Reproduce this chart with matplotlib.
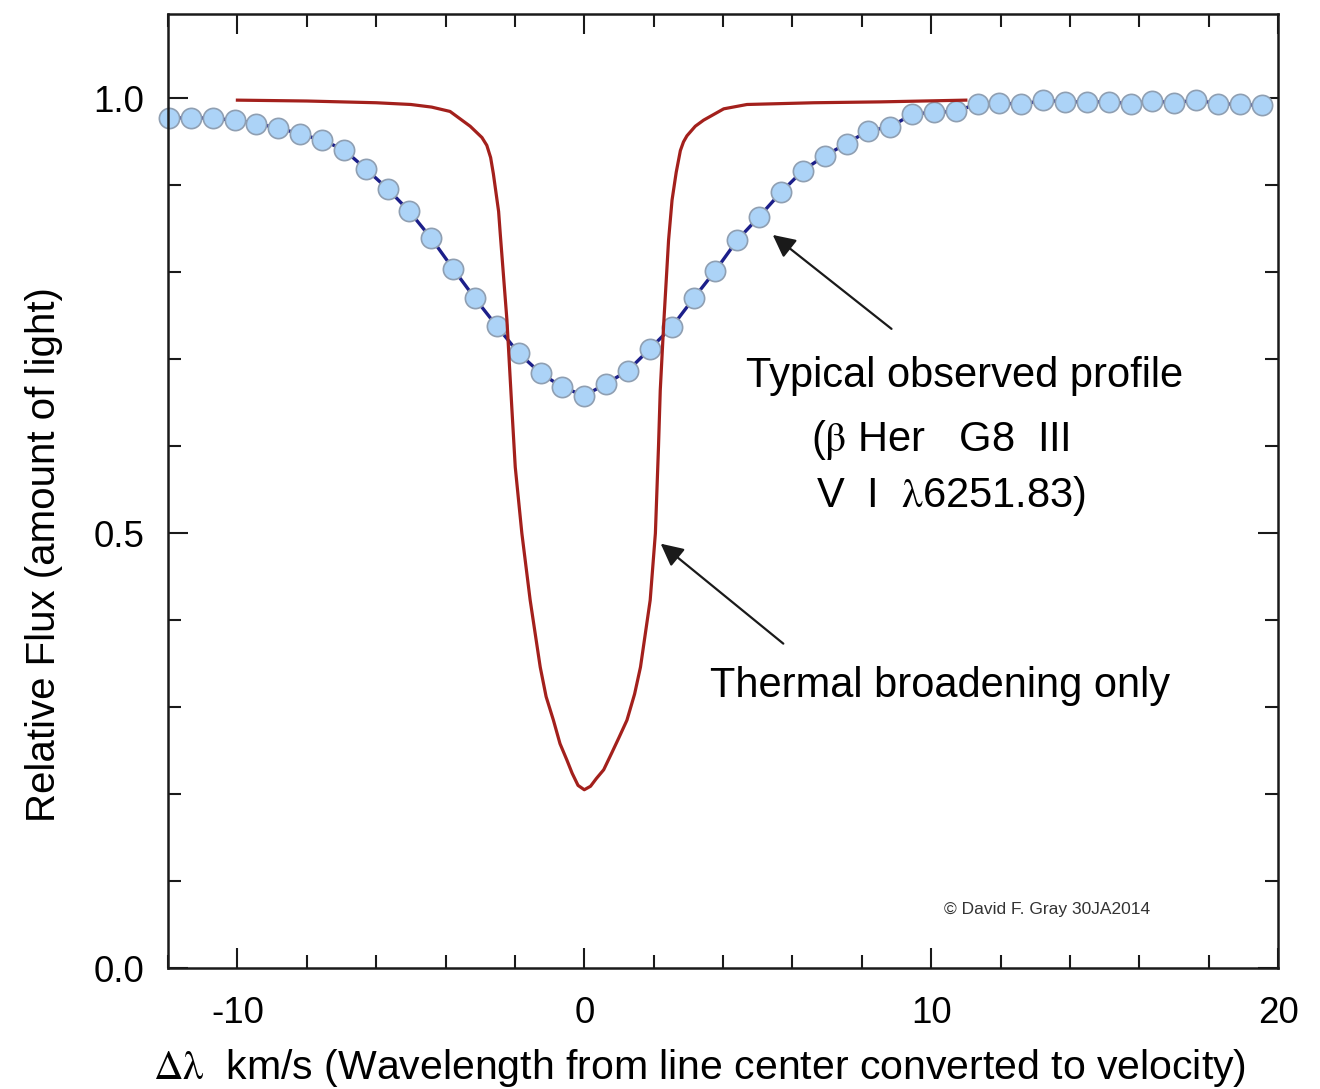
import matplotlib
matplotlib.use('Agg')
from matplotlib import pyplot as plt
from matplotlib.ticker import MultipleLocator, FixedLocator

plt.rcParams['font.family'] = ['Liberation Sans', 'DejaVu Sans']
plt.rcParams['mathtext.fontset'] = 'stix'
plt.rcParams['axes.unicode_minus'] = False

# observed profile (beta Her, V I 6251.83), dots every ~0.63 km/s
obs_v = [-11.97, -11.34, -10.71, -10.08, -9.45, -8.82, -8.19, -7.56, -6.93, -6.30,
         -5.67, -5.04, -4.41, -3.78, -3.15, -2.52, -1.89, -1.26, -0.63, 0.0,
         0.63, 1.26, 1.89, 2.52, 3.15, 3.78, 4.41, 5.04, 5.67, 6.30,
         6.93, 7.56, 8.19, 8.82, 9.45, 10.08, 10.71, 11.34, 11.97, 12.60,
         13.23, 13.86, 14.49, 15.12, 15.75, 16.38, 17.01, 17.64, 18.27, 18.90,
         19.53]
obs_flux = [0.977, 0.978, 0.977, 0.975, 0.971, 0.966, 0.959, 0.952, 0.941, 0.919,
            0.896, 0.870, 0.839, 0.804, 0.770, 0.738, 0.707, 0.684, 0.668, 0.658,
            0.672, 0.687, 0.712, 0.737, 0.770, 0.802, 0.837, 0.864, 0.892, 0.917,
            0.934, 0.948, 0.963, 0.967, 0.982, 0.984, 0.985, 0.994, 0.995, 0.993,
            0.998, 0.996, 0.996, 0.996, 0.994, 0.997, 0.995, 0.998, 0.994, 0.993,
            0.992]

# thermal broadening only
th_v = [-10.0, -8.0, -6.0, -5.0, -4.4, -3.87, -3.29, -2.95, -2.81, -2.70,
        -2.62, -2.47, -2.42, -2.23, -2.09, -1.99, -1.80, -1.56, -1.27, -1.10,
        -0.89, -0.70, -0.50, -0.35, -0.18, 0.0, 0.18, 0.35, 0.56, 0.80,
        1.00, 1.23, 1.45, 1.62, 1.90, 2.05, 2.14, 2.19, 2.29, 2.43,
        2.53, 2.65, 2.77, 2.86, 2.96, 3.20, 3.44, 4.02, 4.69, 6.62,
        8.54, 11.0]
th_flux = [0.998, 0.997, 0.995, 0.993, 0.990, 0.985, 0.968, 0.955, 0.946, 0.932,
           0.913, 0.870, 0.843, 0.745, 0.645, 0.576, 0.500, 0.423, 0.346, 0.312,
           0.285, 0.258, 0.239, 0.224, 0.210, 0.205, 0.209, 0.218, 0.228, 0.248,
           0.265, 0.285, 0.315, 0.346, 0.423, 0.500, 0.600, 0.664, 0.741, 0.837,
           0.883, 0.915, 0.940, 0.950, 0.957, 0.968, 0.975, 0.988, 0.993, 0.995,
           0.996, 0.998]

fig = plt.figure(figsize=(13.2, 10.89), dpi=100)
ax = fig.add_axes([0.1273, 0.1111, 0.8409, 0.876])

ax.plot(obs_v, obs_flux, '-', color='#1c1f8a', lw=2.4, zorder=2,
        marker='o', ms=14.6, mfc='#acd3f7', mec='#8f9fb2', mew=1.2, clip_on=False)
ax.plot(th_v, th_flux, '-', color='#a3201c', lw=2.3, zorder=3)

ax.set_xlim(-12, 20)
ax.set_ylim(0, 1.097)
ax.xaxis.set_major_locator(FixedLocator([-10, 0, 10, 20]))
ax.xaxis.set_minor_locator(MultipleLocator(2))
ax.yaxis.set_major_locator(FixedLocator([0.0, 0.5, 1.0]))
ax.yaxis.set_minor_locator(MultipleLocator(0.1))
ax.set_xticklabels(['-10', '0', '10', '20'])
ax.set_yticklabels(['0.0', '0.5', '1.0'])

for s in ax.spines.values():
    s.set_linewidth(1.8)
    s.set_color('#1a1a1a')
ax.tick_params(which='both', direction='in', top=True, right=True,
               width=1.5, color='#1a1a1a', labelsize=26.5)
ax.tick_params(which='major', length=14.5)
ax.tick_params(which='minor', length=9.5)
ax.tick_params(axis='x', pad=20)
ax.tick_params(axis='y', pad=17)

ax.set_xlabel(r'$\mathrm{\Delta\lambda}$  km/s (Wavelength from line center converted to velocity)',
              fontsize=29.5, labelpad=12)
ax.xaxis.label.set_x(0.479)
ax.set_ylabel('Relative Flux (amount of light)', fontsize=29, labelpad=22)
ax.yaxis.label.set_y(0.433)

arrow = dict(arrowstyle='-|>', color='#1a1a1a', lw=1.6, mutation_scale=34)
ax.annotate('', xy=(5.37, 0.845), xytext=(8.92, 0.733), arrowprops=arrow)
ax.annotate('', xy=(2.14, 0.490), xytext=(5.80, 0.371), arrowprops=arrow)

ax.text(10.95, 0.668, 'Typical observed profile', fontsize=30, ha='center', va='baseline')
ax.text(10.25, 0.595, r'($\mathrm{\beta}$ Her   G8  III', fontsize=30, ha='center', va='baseline')
ax.text(10.56, 0.530, r'V  I  $\mathrm{\lambda}$6251.83)', fontsize=30, ha='center', va='baseline')
ax.text(10.27, 0.3115, 'Thermal broadening only', fontsize=30, ha='center', va='baseline')
ax.text(13.33, 0.062, '\u00a9 David F. Gray 30JA2014', fontsize=12.5, ha='center', va='baseline',
        color='#333333')

plt.savefig('out.png', dpi=100)
